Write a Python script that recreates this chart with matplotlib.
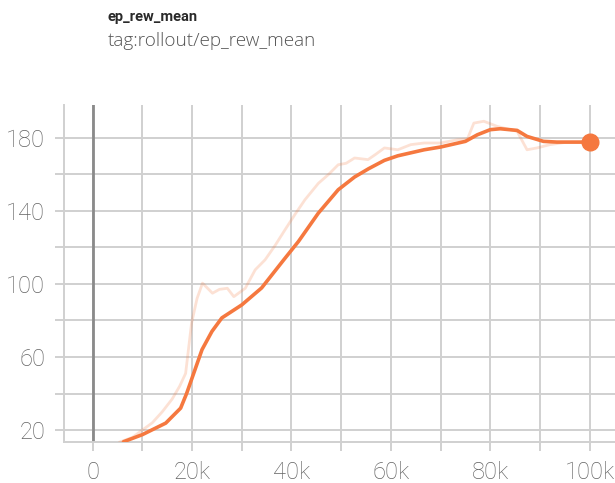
import matplotlib
matplotlib.use("Agg")
import matplotlib.pyplot as plt
from matplotlib.ticker import FixedLocator, FuncFormatter

# ---- data ----
raw_steps = [5.5, 8, 10, 12, 14, 16, 17.5, 18.7, 19.9, 21, 22.1, 24.1, 25.5, 27.1,
             28.4, 30.7, 32.7, 34.7, 36.7, 38.7, 40.7, 42.7, 45.4, 47.5, 49.4, 51,
             52.7, 55.4, 57, 58.7, 61.4, 64, 66.7, 70, 73.4, 75.4, 76.7, 78.7, 81.4,
             84, 85.4, 87.4, 89.4, 92, 95, 100]
raw_values = [13.5, 16, 20, 24, 30, 37, 44, 51, 78.5, 92, 100.4, 94.9, 97, 97.6,
              93, 97.6, 107.7, 113.2, 121, 129.6, 138, 146, 155, 160, 165.2, 166,
              168.9, 168, 171, 174.4, 173.4, 176.2, 177.1, 177.1, 178.9, 179.3, 188,
              189, 186.2, 184.4, 183.5, 173.4, 174.4, 176.2, 177.4, 177.6]

smooth_steps = [6.2, 10, 14.7, 17.7, 18.9, 20, 22, 24, 26, 30, 34, 38.4, 41.4,
                45.4, 49.4, 52.7, 55.5, 58.7, 61.4, 66.7, 70, 75, 77.4, 80, 82,
                85.4, 87.4, 90.7, 93.4, 96.5, 100]
smooth_values = [13.6, 17.5, 23.8, 32, 40, 48.5, 64, 74, 81.4, 88.5, 97.8, 113,
                 123.2, 138.7, 151.5, 158.5, 163, 167.6, 170.1, 173.4, 174.9, 178,
                 181.6, 184.4, 184.9, 184, 180.7, 178, 177.6, 177.6, 177.6]

x_ticks = [0, 20, 40, 60, 80, 100]
x_tick_labels = ["0", "20k", "40k", "60k", "80k", "100k"]
y_ticks = [20, 60, 100, 140, 180]
y_tick_labels = ["20", "60", "100", "140", "180"]

title = "ep_rew_mean"
subtitle = "tag:rollout/ep_rew_mean"

# ---- figure ----
plt.rcParams["font.family"] = ["Roboto", "DejaVu Sans"]
fig = plt.figure(figsize=(6.15, 4.83), dpi=100)
ax = fig.add_axes([64.3 / 615, (483 - 442.3) / 483, (615 - 64.3) / 615, (442.3 - 105) / 483])

orange = "#f5783f"
grid_c = "#d0d0d0"

ax.set_xlim(-5.71, 105.1)
ax.set_ylim(13.3, 197.9)

# grid positions every 10k / 20 units, labels only on some
xgrid = list(range(0, 111, 10))
ygrid = list(range(20, 181, 20))
ax.xaxis.set_major_locator(FixedLocator(xgrid))
ax.yaxis.set_major_locator(FixedLocator(ygrid))
xlab = dict(zip(x_ticks, x_tick_labels))
ylab = dict(zip(y_ticks, y_tick_labels))
ax.xaxis.set_major_formatter(FuncFormatter(lambda v, p: xlab.get(int(round(v)), "")))
ax.yaxis.set_major_formatter(FuncFormatter(lambda v, p: ylab.get(int(round(v)), "")))

ax.set_axisbelow(True)
ax.grid(True, color=grid_c, linewidth=1.4, zorder=0)
ax.tick_params(axis="both", length=6.8, width=1.4, color=grid_c,
               labelsize=17, labelcolor="#636363", pad=7)
for lab in ax.get_xticklabels() + ax.get_yticklabels():
    lab.set_fontweight("light")

for s in ["top", "right"]:
    ax.spines[s].set_visible(False)
for s in ["left", "bottom"]:
    ax.spines[s].set_color(grid_c)
    ax.spines[s].set_linewidth(1.4)

ax.axvline(0, color="#8a8a8a", linewidth=2.0, zorder=2)

ax.plot(raw_steps, raw_values, color=orange, alpha=0.22, linewidth=2.0, zorder=3)
ax.plot(smooth_steps, smooth_values, color=orange, linewidth=2.6, zorder=4,
        solid_capstyle="round", solid_joinstyle="round")
ax.plot([smooth_steps[-1]], [smooth_values[-1]], "o", color=orange, markersize=12,
        zorder=5, clip_on=False)

fig.text(108 / 615, 1 - 17 / 483, title, fontsize=10.5, fontweight="bold",
         color="#2a2a2a", va="center", ha="left")
fig.text(108 / 615, 1 - 41 / 483, subtitle, fontsize=13.6, color="#555555",
         va="center", ha="left", family=["Open Sans", "DejaVu Sans"], fontweight="light")

fig.savefig("out.png", dpi=100)
